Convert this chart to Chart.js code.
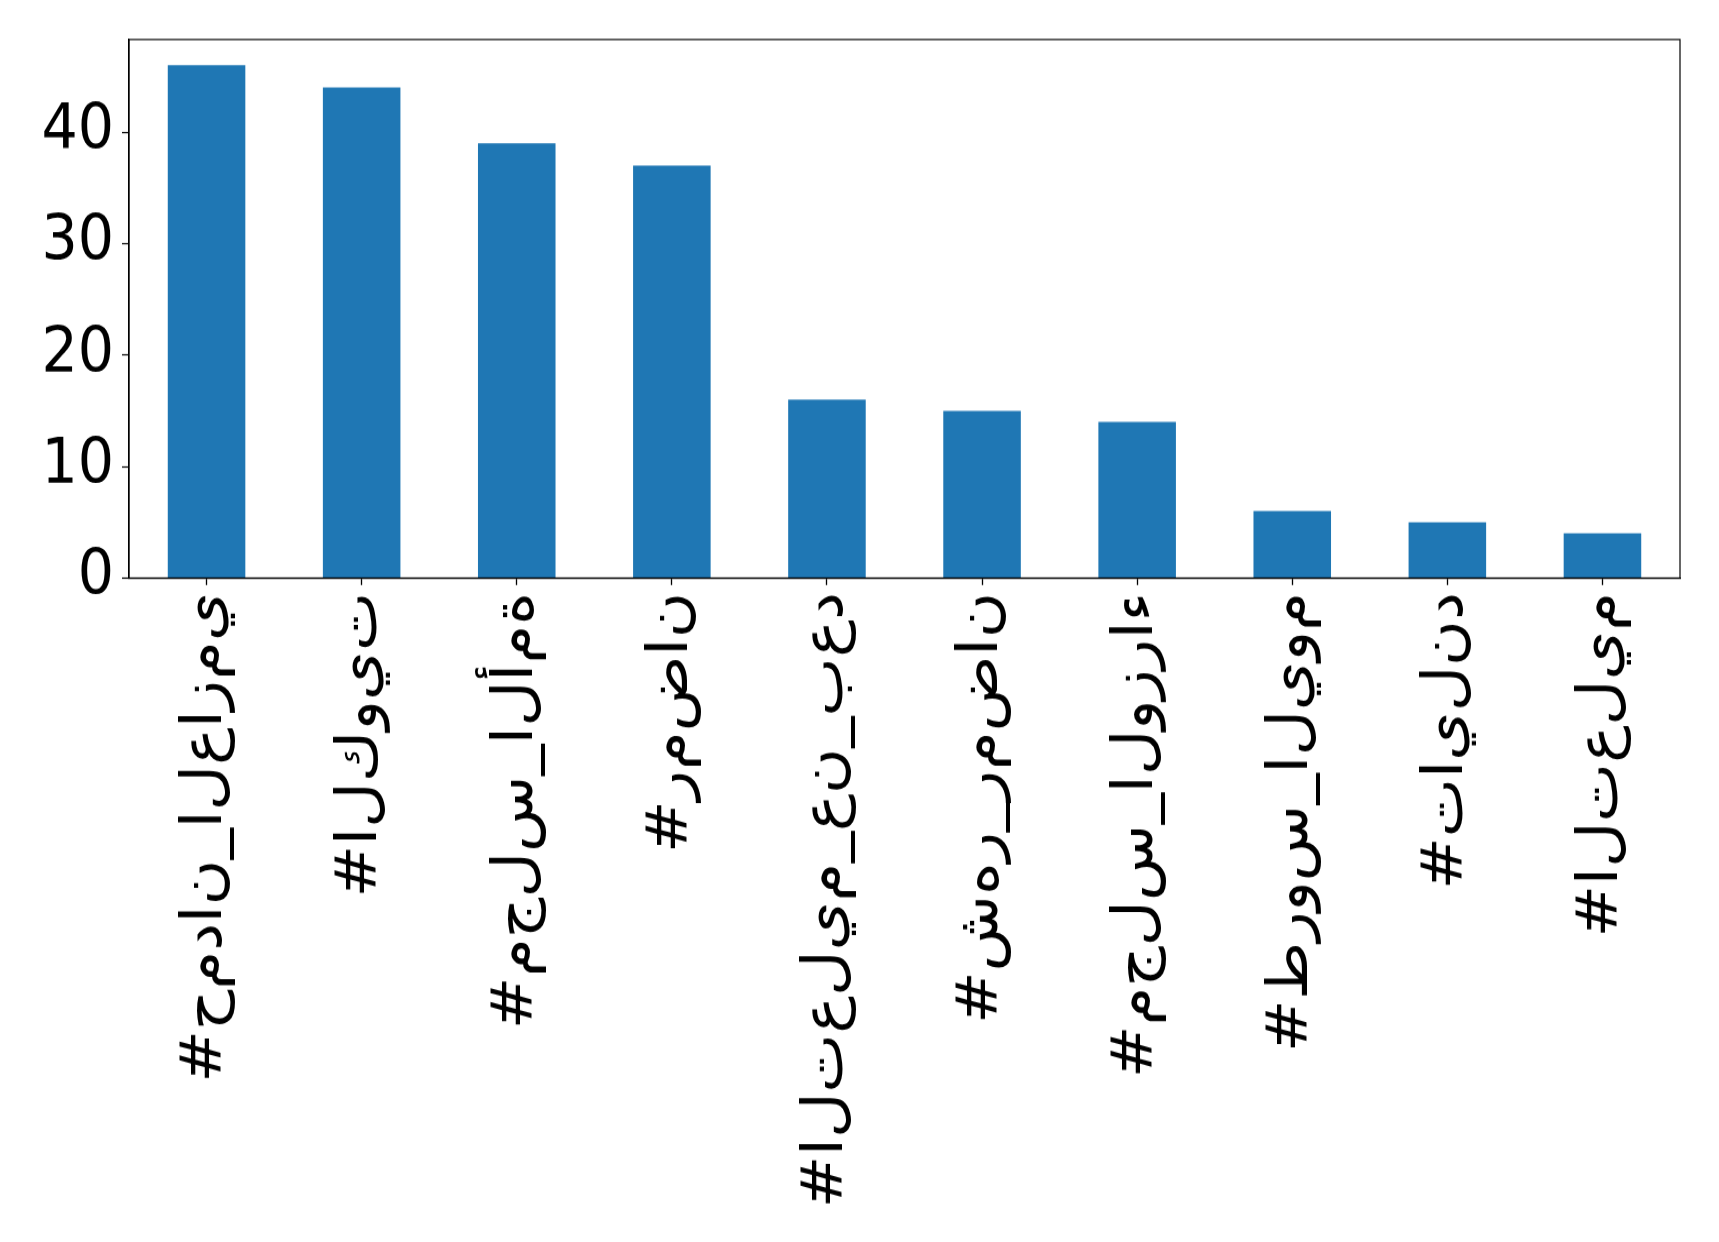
<!DOCTYPE html>
<html>
<head>
<meta charset="utf-8">
<script src="https://cdn.jsdelivr.net/npm/chart.js@4"></script>
<style>
  html, body { margin: 0; background: #fff; height: 1242px; }
  /* a figura original parece esticada na vertical (~1.1x) */
  #wrap { width: 1719px; height: 1129px; transform: scaleY(1.1001); transform-origin: 0 0; }
</style>
</head>
<body>
<div id="wrap"><canvas id="grafico" width="1719" height="1129"></canvas></div>
<script>
// Dados
const hashtags = ["#حمدان_العازمي", "#الكويت", "#مجلس_الأمة", "#رمضان", "#التعليم_عن_بعد",
                  "#شهر_رمضان", "#مجلس_الوزراء", "#طروس_اليوم", "#تايلند", "#التعليم"];
const contagens = [46, 44, 39, 37, 16, 15, 14, 6, 5, 4];
const ticksY = [0, 10, 20, 30, 40];
const yMax = 48.3;

const esticar = 1242 / 1129; // fator vertical
const altura = 1129;

Chart.defaults.font.family = "DejaVu Sans";
Chart.defaults.color = "#000";

// O matplotlib desenha o árabe da esquerda p/ direita e sem ligar as letras
function formatarRotulo(txt) {
  return "\u202D" + Array.from(txt).join("\u200C") + "\u202C";
}

// Moldura completa (spines de cima e da direita)
const moldura = {
  id: "moldura",
  afterDraw(chart) {
    const { ctx, chartArea: a } = chart;
    ctx.save();
    ctx.strokeStyle = "#000";
    ctx.lineWidth = 1.2;
    ctx.strokeRect(a.left, a.top, a.right - a.left, a.bottom - a.top);
    ctx.restore();
  }
};

const ctx = document.getElementById("grafico").getContext("2d");
new Chart(ctx, {
  type: "bar",
  data: {
    labels: hashtags,
    datasets: [{
      data: contagens,
      backgroundColor: "#1f77b4",
      barPercentage: 0.5,
      categoryPercentage: 1.0
    }]
  },
  options: {
    responsive: false,
    devicePixelRatio: 1,
    animation: false,
    layout: { padding: { top: 39.5 / esticar, right: 39, left: 0, bottom: 0 } },
    plugins: { legend: { display: false }, tooltip: { enabled: false } },
    scales: {
      x: {
        offset: true,
        grid: { display: true, drawOnChartArea: false, offset: false, tickLength: 6.4, tickColor: "#000", tickWidth: 1.3 },
        border: { display: true, color: "#000", width: 1.2 },
        ticks: {
          autoSkip: false,
          minRotation: 90,
          maxRotation: 90,
          padding: 6.4,
          font: { size: 57 },
          callback: (v, i) => formatarRotulo(hashtags[i])
        },
        afterFit: (axis) => { axis.height = altura - 578 / esticar; axis.paddingLeft = 0; axis.paddingRight = 0; }
      },
      y: {
        min: 0,
        max: yMax,
        grid: { display: true, drawOnChartArea: false, tickLength: 7, tickColor: "#000", tickWidth: 1.2 },
        border: { display: true, color: "#000", width: 1.3 },
        ticks: { padding: 8, font: { size: 57 }, includeBounds: false },
        afterBuildTicks: (axis) => { axis.ticks = ticksY.map(v => ({ value: v })); },
        afterFit: (axis) => { axis.width = 129; axis.paddingTop = 0; axis.paddingBottom = 0; }
      }
    }
  },
  plugins: [moldura]
});
</script>
</body>
</html>
